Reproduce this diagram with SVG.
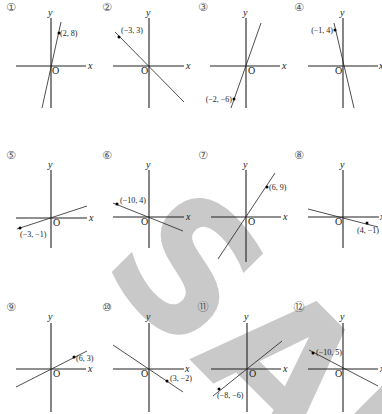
<svg xmlns="http://www.w3.org/2000/svg" width="382" height="414" viewBox="0 0 382 414">
<style>
.ax{stroke:#222;stroke-width:1.1;fill:none}
.ln{stroke:#222;stroke-width:0.8;fill:none}
.pt{fill:#000}
.lb{font-family:"Liberation Serif",serif;font-size:8px;fill:#222}
.it{font-family:"Liberation Serif",serif;font-style:italic;font-size:10px;fill:#222}
.o{font-family:"Liberation Serif",serif;font-size:10px;fill:#222}
.num{font-family:"DejaVu Sans","Noto Sans CJK JP",sans-serif;font-size:11px;fill:#555;text-anchor:middle}
.wm{font-family:"DejaVu Sans",sans-serif;font-weight:bold;font-size:180px;fill:#c9c9c9}
</style>
<g id="watermark"><text class="wm" transform="translate(97,267) rotate(45)">SAMPLE</text></g>
<g id="labels-num">
<text class="num" x="11" y="11">①</text><text class="num" x="107" y="11">②</text><text class="num" x="203" y="11">③</text><text class="num" x="299" y="11">④</text>
<text class="num" x="11" y="159">⑤</text><text class="num" x="107" y="159">⑥</text><text class="num" x="203" y="159">⑦</text><text class="num" x="299" y="159">⑧</text>
<text class="num" x="11" y="311">⑨</text><text class="num" x="107" y="311">⑩</text><text class="num" x="203" y="311">⑪</text><text class="num" x="299" y="311">⑫</text>
</g>
<g id="p1">
<line class="ax" x1="16" y1="66" x2="86" y2="66"/><line class="ax" x1="51" y1="18" x2="51" y2="108"/>
<text class="it" x="88" y="69">x</text><text class="it" x="48" y="16">y</text><text class="o" x="52" y="74">O</text>
<line class="ln" x1="61" y1="22" x2="42" y2="108"/><circle class="pt" cx="59" cy="33" r="1.5"/>
<text class="lb" x="60" y="36">(2, 8)</text>
</g>
<g id="p2">
<line class="ax" x1="113" y1="66" x2="184" y2="66"/><line class="ax" x1="149" y1="18" x2="149" y2="108"/>
<text class="it" x="186" y="69">x</text><text class="it" x="146" y="16">y</text><text class="o" x="141" y="74">O</text>
<line class="ln" x1="115" y1="32" x2="184" y2="102"/><circle class="pt" cx="119" cy="37" r="1.5"/>
<text class="lb" x="121" y="33">(−3, 3)</text>
</g>
<g id="p3">
<line class="ax" x1="210" y1="66" x2="280" y2="66"/><line class="ax" x1="246" y1="18" x2="246" y2="108"/>
<text class="it" x="282" y="69">x</text><text class="it" x="243" y="16">y</text><text class="o" x="248" y="74">O</text>
<line class="ln" x1="261" y1="23" x2="231" y2="108"/><circle class="pt" cx="234" cy="99" r="1.5"/>
<text class="lb" x="232" y="102" text-anchor="end">(−2, −6)</text>
</g>
<g id="p4">
<line class="ax" x1="308" y1="66" x2="378" y2="66"/><line class="ax" x1="343" y1="18" x2="343" y2="108"/>
<text class="it" x="379" y="69">x</text><text class="it" x="340" y="16">y</text><text class="o" x="335" y="74">O</text>
<line class="ln" x1="334" y1="23" x2="354" y2="108"/><circle class="pt" cx="335" cy="30" r="1.5"/>
<text class="lb" x="333" y="33" text-anchor="end">(−1, 4)</text>
</g>
<g id="p5">
<line class="ax" x1="16" y1="218" x2="87" y2="218"/><line class="ax" x1="51" y1="170" x2="51" y2="248"/>
<text class="it" x="89" y="221">x</text><text class="it" x="48" y="168">y</text><text class="o" x="53" y="226">O</text>
<line class="ln" x1="17" y1="229" x2="87" y2="206"/><circle class="pt" cx="20" cy="228" r="1.5"/>
<text class="lb" x="20" y="237">(−3, −1)</text>
</g>
<g id="p6">
<line class="ax" x1="113" y1="217" x2="184" y2="217"/><line class="ax" x1="149" y1="170" x2="149" y2="248"/>
<text class="it" x="186" y="220">x</text><text class="it" x="146" y="168">y</text><text class="o" x="141" y="225">O</text>
<line class="ln" x1="113" y1="203" x2="183" y2="231"/><circle class="pt" cx="117" cy="204" r="1.5"/>
<text class="lb" x="120" y="203">(−10, 4)</text>
</g>
<g id="p7">
<line class="ax" x1="211" y1="217" x2="281" y2="217"/><line class="ax" x1="246" y1="170" x2="246" y2="262"/>
<text class="it" x="283" y="220">x</text><text class="it" x="243" y="168">y</text><text class="o" x="248" y="225">O</text>
<line class="ln" x1="275" y1="173" x2="218" y2="259"/><circle class="pt" cx="267" cy="187" r="1.5"/>
<text class="lb" x="269" y="190">(6, 9)</text>
</g>
<g id="p8">
<line class="ax" x1="308" y1="217" x2="379" y2="217"/><line class="ax" x1="343" y1="170" x2="343" y2="248"/>
<text class="it" x="380" y="220">x</text><text class="it" x="340" y="168">y</text><text class="o" x="335" y="225">O</text>
<line class="ln" x1="308" y1="209" x2="378" y2="227"/><circle class="pt" cx="367" cy="223" r="1.5"/>
<text class="lb" x="357" y="233">(4, −1)</text>
</g>
<g id="p9">
<line class="ax" x1="16" y1="369" x2="86" y2="369"/><line class="ax" x1="51" y1="323" x2="51" y2="412"/>
<text class="it" x="88" y="372">x</text><text class="it" x="48" y="320">y</text><text class="o" x="53" y="377">O</text>
<line class="ln" x1="87" y1="351" x2="16" y2="387"/><circle class="pt" cx="74" cy="357" r="1.5"/>
<text class="lb" x="76" y="361">(6, 3)</text>
</g>
<g id="p10">
<line class="ax" x1="113" y1="369" x2="184" y2="369"/><line class="ax" x1="149" y1="323" x2="149" y2="412"/>
<text class="it" x="185" y="372">x</text><text class="it" x="146" y="320">y</text><text class="o" x="141" y="377">O</text>
<line class="ln" x1="113" y1="345" x2="183" y2="392"/><circle class="pt" cx="167" cy="381" r="1.5"/>
<text class="lb" x="170" y="381">(3, −2)</text>
</g>
<g id="p11">
<line class="ax" x1="211" y1="369" x2="281" y2="369"/><line class="ax" x1="247" y1="323" x2="247" y2="412"/>
<text class="it" x="283" y="372">x</text><text class="it" x="244" y="320">y</text><text class="o" x="249" y="377">O</text>
<line class="ln" x1="213" y1="396" x2="282" y2="341"/><circle class="pt" cx="219" cy="389" r="1.5"/>
<text class="lb" x="217" y="398">(−8, −6)</text>
</g>
<g id="p12">
<line class="ax" x1="308" y1="369" x2="378" y2="369"/><line class="ax" x1="343" y1="323" x2="343" y2="412"/>
<text class="it" x="380" y="372">x</text><text class="it" x="340" y="320">y</text><text class="o" x="335" y="377">O</text>
<line class="ln" x1="309" y1="350" x2="378" y2="386"/><circle class="pt" cx="313" cy="353" r="1.5"/>
<text class="lb" x="316" y="355">(−10, 5)</text>
</g>
</svg>
